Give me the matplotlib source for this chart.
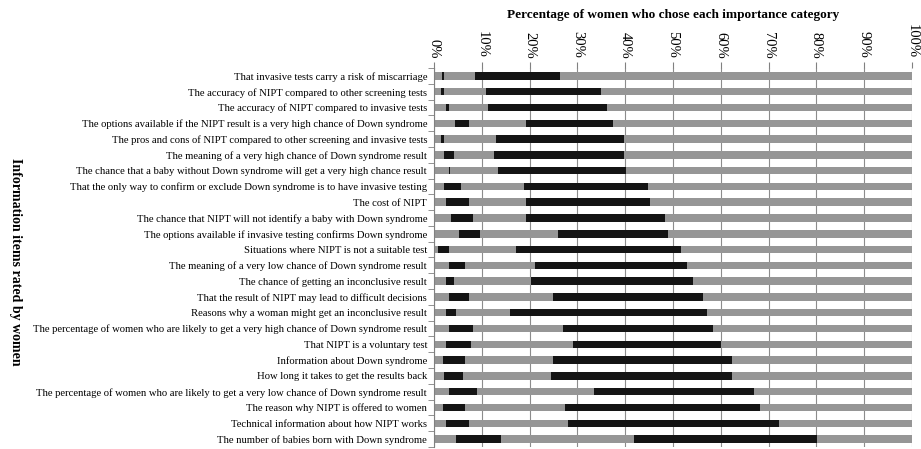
import matplotlib.pyplot as plt
import numpy as np

# items, top to bottom as in the figure
items = [
    "That invasive tests carry a risk of miscarriage",
    "The accuracy of NIPT compared to other screening tests",
    "The accuracy of NIPT compared to invasive tests",
    "The options available if the NIPT result is a very high chance of Down syndrome",
    "The pros and cons of NIPT compared to other screening and invasive tests",
    "The meaning of a very high chance of Down syndrome result",
    "The chance that a baby without Down syndrome will get a very high chance result",
    "That the only way to confirm or exclude Down syndrome is to have invasive testing",
    "The cost of NIPT",
    "The chance that NIPT will not identify a baby with Down syndrome",
    "The options available if invasive testing confirms Down syndrome",
    "Situations where NIPT is not a suitable test",
    "The meaning of a very low chance of Down syndrome result",
    "The chance of getting an inconclusive result",
    "That the result of NIPT may lead to difficult decisions",
    "Reasons why a woman might get an inconclusive result",
    "The percentage of women who are likely to get a very high chance of Down syndrome result",
    "That NIPT is a voluntary test",
    "Information about Down syndrome",
    "How long it takes to get the results back",
    "The percentage of women who are likely to get a very low chance of Down syndrome result",
    "The reason why NIPT is offered to women",
    "Technical information about how NIPT works",
    "The number of babies born with Down syndrome",
]

# percentage in each importance category
cat1 = [1.6, 1.4, 2.6, 4.3, 1.4, 2.2, 3.1, 2.2, 2.6, 3.5, 5.2, 0.9,
        3.1, 2.6, 3.1, 2.6, 3.1, 2.6, 1.8, 2.2, 3.1, 1.8, 2.6, 4.7]
cat2 = [0.5, 0.7, 0.5, 3.0, 0.7, 2.0, 0.3, 3.4, 4.7, 4.6, 4.5, 2.2,
        3.4, 1.6, 4.2, 2.1, 5.0, 5.1, 4.7, 3.9, 5.9, 4.7, 4.7, 9.4]
cat3 = [6.5, 8.7, 8.1, 11.9, 10.8, 8.3, 10.0, 13.2, 11.9, 11.1, 16.3, 14.0,
        14.6, 16.0, 17.5, 11.2, 18.8, 21.3, 18.4, 18.3, 24.4, 20.9, 20.8, 27.8]
cat4 = [17.8, 24.2, 25.1, 18.3, 26.8, 27.2, 26.7, 25.9, 25.9, 29.1, 23.0, 34.5,
        31.8, 33.9, 31.5, 41.2, 31.5, 31.1, 37.4, 37.9, 33.5, 40.9, 44.0, 38.3]
cat5 = [73.6, 65.0, 63.7, 62.5, 60.3, 60.3, 59.9, 55.3, 54.9, 51.7, 51.0, 48.4,
        47.1, 45.9, 43.7, 42.9, 41.6, 39.9, 37.7, 37.7, 33.1, 31.7, 27.9, 19.8]

xticks = [0, 10, 20, 30, 40, 50, 60, 70, 80, 90, 100]

plt.rcParams['font.family'] = ['Liberation Serif', 'DejaVu Serif']

fig = plt.figure(figsize=(9.21, 4.49), dpi=100)
ax = fig.add_axes([0.4712, 0.0045, 0.519, 0.8441])

gray = '#969696'
black = '#141414'
colors = [gray, black, gray, black, gray]
y = np.arange(len(items))
left = np.zeros(len(items))
for vals, c in zip([cat1, cat2, cat3, cat4, cat5], colors):
    ax.barh(y, vals, left=left, height=0.47, color=c, zorder=2)
    left = left + np.array(vals)

ax.set_xlim(0, 100)
ax.set_ylim(len(items) - 0.5, -0.5)

ax.xaxis.tick_top()
ax.set_xticks(xticks)
ax.set_xticklabels([f"{t}%" for t in xticks], rotation=-90, fontsize=10.5)
ax.tick_params(axis='x', length=4, color='#808080', pad=3)
ax.xaxis.grid(True, color='#8c8c8c', linewidth=0.8, zorder=0)
ax.set_axisbelow(True)

ax.set_yticks(y)
ax.set_yticklabels(items, fontsize=7.7)
ax.tick_params(axis='y', which='major', length=0, pad=5)
ax.set_yticks(np.arange(len(items) + 1) - 0.5, minor=True)
ax.tick_params(axis='y', which='minor', length=4, color='#808080')

for s in ['top', 'right', 'bottom']:
    ax.spines[s].set_visible(False)
ax.spines['left'].set_color('#808080')

fig.text(0.7307, 0.966, "Percentage of women who chose each importance category",
         ha='center', va='center', fontsize=9.5, fontweight='bold')
fig.text(0.017, 0.416, "Information items rated by women", rotation=-90,
         ha='center', va='center', fontsize=10, fontweight='bold')

fig.savefig('out.png', dpi=100)
